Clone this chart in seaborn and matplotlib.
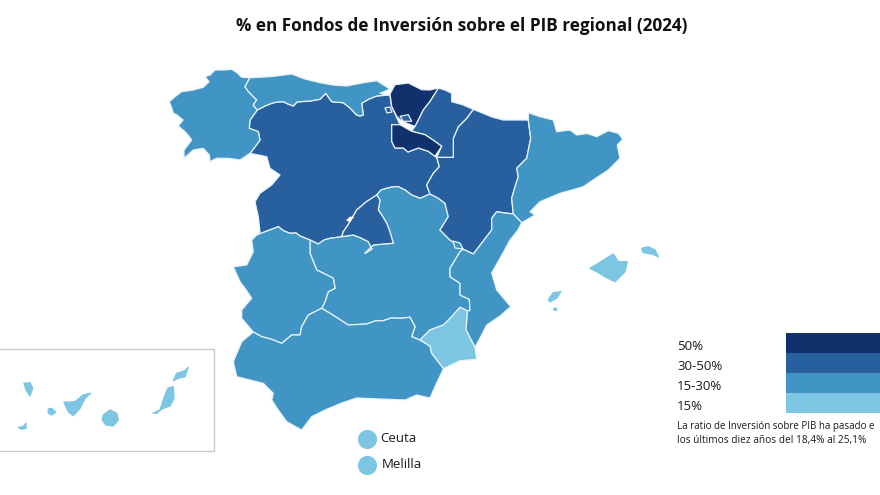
import matplotlib
matplotlib.use("Agg")
import matplotlib.pyplot as plt
import pandas as pd
import seaborn as sns

# =========================
# Data (outlines, x/y in image pixels)
# =========================

legend_labels = ["50%", "30-50%", "15-30%", "15%"]
legend_colors = ["#10316b", "#28609f", "#4195c4", "#7dc6e3"]
legend_label_y = [346, 366, 386, 407]

cities = ["Ceuta", "Melilla"]
city_x = [366.7, 366.7]
city_y = [438.5, 464.5]
city_label_x = [380, 382]

# shared borders
gal_ast = [(250, 77.7), (245, 86.7), (248, 91), (251.7, 95), (256.7, 100), (253.3, 105), (257.3, 110)]
gal_cyl = [(257.3, 110), (250, 120), (249.3, 128.3), (258.3, 131.7), (260, 140), (255, 147), (250, 153.3)]
ast_cyl = [(257.3, 110), (265, 106), (271.7, 103.3), (277, 102), (283.3, 101.7), (288, 104), (293.3, 106), (297, 102),
           (300, 101.7), (310, 101), (320, 99.3), (325.7, 93.3), (331.7, 101.7), (343.3, 102.7), (350, 108),
           (356.7, 115), (360, 116), (363.3, 115), (361.7, 103.3), (369, 99), (376.7, 96), (388.3, 95)]
cyl_ext = [(256.7, 235), (267, 231), (278.3, 226.7), (284, 231), (290, 233.3), (296, 233), (300, 236), (310, 240)]
cyl_clm = [(310, 240), (318.3, 244), (324, 240), (330, 238.3), (341.7, 236.7)]
mad_cyl = [(341.7, 236.7), (343.3, 231.7), (348, 225), (356.7, 210), (366, 202), (376.7, 195)]
mad_clm = [(376.7, 195), (380, 200), (378.3, 210), (383, 217), (386.7, 223.3), (390, 232), (393.3, 243.3),
           (383, 244), (373.3, 245), (365, 253.3), (372, 249), (368.3, 241.7), (361, 238), (353.3, 235),
           (341.7, 236.7)]
clm_north = [(376.7, 195), (381, 190), (386.7, 188.3), (392, 187), (398.3, 186.7), (405, 190), (411.7, 195),
             (420, 198.3), (430, 194)]
ara_cyl = [(430, 194), (426.7, 185), (433.3, 173.3), (439.3, 166.7), (436.7, 157.3)]
ara_clm = [(430, 194), (438, 198), (445, 203.3), (448.3, 216.7), (440, 230), (450, 240), (463.3, 249.3)]
ara_val = [(463.3, 249.3), (473.3, 254), (483.3, 241), (491.7, 230), (491.7, 218.3), (496.7, 211.7), (505, 213),
           (513.3, 214)]
ara_cat = [(513.3, 214), (511.7, 198.3), (515, 186.7), (518.3, 176.7), (516.7, 168.3), (526.7, 158.3),
           (530.7, 138.3), (528.3, 120)]
ara_nav = [(473.3, 109.3), (466.7, 118.3), (458.3, 126.7), (453.3, 138.3), (453.3, 157.3), (445, 157.3),
           (436.7, 157.3)]
rio_south = [(441.7, 146.3), (435, 156.3), (428.3, 151.3), (418.3, 148), (408, 152), (403.3, 148), (395, 148),
             (391.7, 141.3)]
rio_north = [(391.7, 141.3), (391.7, 124.7), (400, 124.7), (411.7, 131.3), (425, 134.7), (433, 140), (441.7, 146.3)]
bas_nav = [(438.3, 88), (430, 101.3), (423.3, 109.7), (418.3, 119.7), (415, 126.3)]
val_clm = [(463.3, 249.3), (460, 251.7), (450, 268.3), (450, 276.7), (460, 283.3), (460, 295), (469.3, 299.3),
           (470, 310.7)]
mur_clm = [(467.3, 310.7), (460, 307.3), (451.7, 316.7), (443.3, 325), (430, 330), (420, 340)]
and_clm = [(420, 340), (411.7, 336.7), (415, 326.7), (410, 317.3), (400, 318.3), (391, 318), (383.3, 320.7),
           (375, 321), (366.7, 324), (348.3, 325), (339, 319), (330, 313.3), (321.7, 308.3)]
ext_clm = [(310, 240), (310, 253.3), (316.7, 270), (325, 274), (333.3, 278.3), (335, 288.3), (328.3, 291.7),
           (325, 301.7), (321.7, 308.3)]
ext_and = [(321.7, 308.3), (308.3, 315), (301.7, 326.7), (300, 335), (291.7, 335), (281.7, 343.3), (271.7, 339.3),
           (261.7, 336.7), (253.3, 332)]
mur_val = [(467.3, 310.7), (466, 330), (475, 347.3)]
mur_and = [(420, 340), (430, 346), (431.7, 353.3), (443.3, 368.3)]

# regions
galicia = [(250, 153.3), (240, 160), (228.3, 158.3), (216.7, 158.3), (210, 161.7), (209.3, 155), (203.3, 148.3),
           (193.3, 150), (184, 158.3), (184, 150), (191.7, 140), (188, 135), (185, 131.7), (178.3, 126), (183, 120),
           (177, 115), (173.3, 113.3), (171.7, 108), (169.3, 101.7), (175, 96.7), (181.7, 91.7), (193.3, 90),
           (203.3, 87.3), (209, 81.7), (205, 76.7), (210, 75), (215, 70), (223, 70), (231.7, 69.3), (237, 72.7),
           (241.7, 77.3)] + gal_ast + gal_cyl
asturias_cantabria = [(250, 77.7), (270, 76.7), (280, 75.5), (291.7, 74), (305, 79), (320, 82.7), (333, 85),
                      (346.7, 86), (363.3, 82.7), (376.7, 80.7), (390, 89), (380, 93.3), (388.3, 95)] \
                     + ast_cyl[::-1] + gal_ast[::-1]
castilla_leon = gal_cyl + [(266.7, 156.7), (270, 168.3), (280, 175), (271.7, 185), (260, 193.3), (255, 201.7),
                           (258.3, 216.7), (260, 232)] + cyl_ext + cyl_clm + mad_cyl + clm_north + ara_cyl \
                + rio_south[1:] + rio_north[:3] + [(397, 118), (391.7, 106), (390, 96), (388.3, 95)] + ast_cyl[::-1]
madrid = mad_cyl + mad_clm
castilla_mancha = clm_north + ara_clm + val_clm + mur_clm + and_clm + ext_clm[::-1] + cyl_clm + mad_clm[::-1]
aragon = [(473.3, 109.3), (481.7, 112.7), (492, 117), (503.3, 120), (528.3, 120)] + ara_cat[::-1] + ara_val[::-1] \
         + ara_clm[::-1] + ara_cyl + ara_nav[::-1]
catalunya = [(528.3, 112.7), (540, 116.7), (553.3, 120), (556.7, 131.7), (570, 130), (576.7, 135), (587, 133.5),
             (596.7, 136.7), (608.3, 130.7), (618.3, 133.3), (622.7, 139.3), (617.3, 145), (620, 158.3),
             (608.3, 170), (596, 178), (583.3, 186.7), (572, 190), (560, 193.3), (550, 197.5), (540, 201.7),
             (530, 211.7), (535, 215), (521.7, 222.7)] + ara_cat
navarra = [(438.3, 88), (445, 90), (451.7, 93.3), (451.7, 101.7), (462, 104.5), (473.3, 109.3)] + ara_nav \
          + [(441.7, 146.3), (433, 140), (425, 134.7), (411.7, 131.3)] + bas_nav[::-1]
euskadi = [(390, 94), (395, 84.7), (408.3, 83), (421.7, 89.7), (430, 90)] + bas_nav \
          + [(406, 123), (400, 119.7), (396.7, 116.3), (391.7, 106.3)]
enclave = [(385, 108), (390, 107), (392, 112), (387, 113)]
trevino = [(400, 116.3), (408.3, 114.7), (411.7, 121.3), (403.3, 121.3)]
la_rioja = rio_north + rio_south[1:]
valencia = ara_val + [(521.7, 222.7), (518, 230), (510, 240), (503, 253), (491.7, 273), (496.7, 290), (510.7, 306.7),
                      (500, 316), (486.7, 325), (481.7, 335), (475, 347.3)] + mur_val[::-1] + val_clm[::-1]
ademuz = [(453, 241), (460, 243), (463, 249), (455, 248)]
murcia = mur_clm + mur_and + [(445, 368), (460, 360.7), (476.7, 359.3), (475, 347.3)] + mur_val[::-1]
andalucia = [(253.3, 332), (241.7, 341.7), (233.3, 361.7), (236.7, 376.7), (250, 380), (263.3, 383.3), (273.3, 393.3),
             (271.7, 400), (278.3, 410), (286.7, 421.7), (301.7, 430), (311.7, 416.7), (325, 410), (341.7, 403),
             (356.7, 398), (380, 399), (405, 400), (416.7, 395), (430, 398), (436.7, 383), (443.3, 369)] \
            + mur_and[::-1] + and_clm + ext_and
extremadura = [(233.3, 266.7), (246.7, 265), (253.3, 251.7), (251.7, 240)] + cyl_ext + ext_clm + ext_and \
              + [(241.7, 318.3), (241.7, 310), (251.7, 298.3), (245, 288.3), (240, 281.7)]

# islands
mallorca = [(590, 268.3), (598.3, 263.3), (613.3, 254), (618.3, 261.7), (627.3, 261.7), (625, 271.7), (615, 281.7),
            (605, 276.7), (596.7, 271.7)]
menorca = [(641.7, 248.3), (648.3, 246.7), (655, 250), (658.3, 256.7), (651.7, 254), (643.3, 252.7)]
ibiza = [(548.3, 300), (553.3, 292.7), (560.7, 291.7), (556.7, 298.3), (550, 301.7)]
formentera = [(553.5, 309), (556, 308), (557, 310), (554.5, 310.5)]
la_palma = [(24, 383.3), (30, 382.7), (32.7, 388.3), (30, 396), (26, 390)]
el_hierro = [(18.3, 427.3), (23.3, 426.7), (26, 423.3), (26, 428.3), (21.7, 429.3)]
la_gomera = [(48.3, 409), (51.7, 408.3), (55.7, 412.3), (51.7, 415), (48.3, 413.3)]
tenerife = [(64, 402.3), (75, 401.7), (83.3, 395), (90.7, 393.3), (85, 398.3), (80, 408.3), (73.3, 415.7),
            (68.3, 411.7)]
gran_canaria = [(103.3, 415), (110, 410), (116.7, 413.3), (118.3, 420), (113.3, 426), (106, 425), (102.3, 420)]
fuerteventura = [(153.3, 413.3), (160, 410), (163.3, 400), (167.7, 388.3), (173.3, 386.7), (174, 398.3), (170, 406),
                 (161.7, 409), (156.7, 413.3)]
lanzarote = [(173.3, 380.7), (176.7, 373.3), (185, 370.7), (188.3, 367.3), (185, 376.7), (178.3, 378.3)]

# draw order matters for the little enclaves
regions = [castilla_leon, galicia, asturias_cantabria, castilla_mancha, madrid, aragon, navarra, euskadi, trevino,
           enclave, la_rioja, catalunya, valencia, ademuz, extremadura, andalucia, murcia]
region_bins = ["30-50%", "15-30%", "15-30%", "15-30%", "30-50%", "30-50%", "30-50%", "50%", "30-50%",
               "30-50%", "50%", "15-30%", "15-30%", "15-30%", "15-30%", "15-30%", "15%"]
islands = [mallorca, menorca, ibiza, formentera, la_palma, el_hierro, la_gomera, tenerife, gran_canaria,
           fuerteventura, lanzarote]

# =========================
# Figure
# =========================

sns.set_theme(style="white")
plt.rcParams["font.family"] = ["Open Sans", "DejaVu Sans"]
palette = dict(zip(legend_labels, sns.color_palette(legend_colors)))

fig = plt.figure(figsize=(8.8, 4.95), dpi=100)
ax = fig.add_axes([0, 0, 1, 1])

for shape, bin_name in zip(regions, region_bins):
    xs, ys = zip(*shape)
    ax.fill(xs, ys, facecolor=palette[bin_name], edgecolor="#e8f3fa", linewidth=0.9, joinstyle="round")

# hole near Madrid
ax.fill([346, 350, 354, 350], [220.5, 216.5, 217, 222], color="white", linewidth=0)

for shape in islands:
    xs, ys = zip(*shape)
    ax.fill(xs, ys, facecolor=palette["15%"], edgecolor=palette["15%"], linewidth=1.0, joinstyle="round")

# Canarias box
ax.plot([0, 213.5, 213.5, 0], [348.5, 348.5, 451, 451], color="#c9c9c9", linewidth=1)

# Ceuta y Melilla
cities_df = pd.DataFrame({"x": city_x, "y": city_y, "city": cities})
sns.scatterplot(data=cities_df, x="x", y="y", s=190, color=legend_colors[3], linewidth=0, legend=False, ax=ax)
for name, x, y in zip(cities, city_label_x, city_y):
    ax.text(x, y + 0.5, name, fontsize=9.5, color="#1a1a1a", va="center", ha="left")

# Legend
for i, (label, color) in enumerate(zip(legend_labels, legend_colors)):
    ax.barh(343.3 + i * 20, 94.5, height=20, left=785.7, color=color, linewidth=0)
    ax.text(677, legend_label_y[i], label, fontsize=9.5, color="#1a1a1a", va="center", ha="left")

# the reference cuts this line at the picture edge, after the "e"
ax.text(677, 426, "La ratio de Inversión sobre PIB ha pasado e", fontsize=7.05, color="#1a1a1a",
        va="center", ha="left")
ax.text(677, 441, "los últimos diez años del 18,4% al 25,1%", fontsize=7.25, color="#1a1a1a",
        va="center", ha="left")

ax.text(462, 26, "% en Fondos de Inversión sobre el PIB regional (2024)", fontsize=12.3, fontweight="bold",
        color="#111111", va="center", ha="center")

ax.set_xlim(0, 880)
ax.set_ylim(495, 0)
ax.axis("off")

fig.savefig("out.png", dpi=100)
